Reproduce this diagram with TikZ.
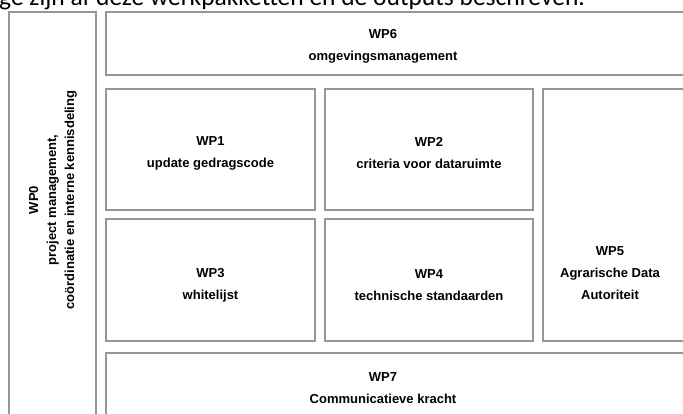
\documentclass[tikz,border=0pt]{standalone}
\usepackage{fontspec}
\setmainfont{Liberation Sans}
\newfontfamily\introfont{Carlito}
\usepackage{xcolor}
\usetikzlibrary{positioning}
\definecolor{boxgray}{RGB}{150,150,150}
\tikzstyle{wpbox} = [rectangle, draw=boxgray, line width=1.2pt, inner sep=0pt]
\tikzstyle{wptext} = [inner sep=0pt, text centered, align=center, font=\fontsize{13}{22}\selectfont\bfseries]
\tikzstyle{intro} = [inner sep=0pt, anchor=base west, font=\introfont\fontsize{25.5}{28}\selectfont]

\begin{document}
\begin{tikzpicture}[x=1pt, y=-1pt]
    \useasboundingbox (0,0) rectangle (683,413);
    \clip (0,0) rectangle (683,413);
    \node (intro_text) [intro] at (-1,5) {ge zijn af deze werkpakketten en de outputs beschreven.};

    \node (wp0) [wpbox, minimum width=87pt, minimum height=440pt] at (52.5,232) {};
    \node (wp6) [wpbox, minimum width=600pt, minimum height=63pt] at (406,43.5) {};
    \node (wp1) [wpbox, minimum width=209pt, minimum height=121pt] at (210.5,149.5) {};
    \node (wp2) [wpbox, minimum width=208pt, minimum height=121pt] at (429,149.5) {};
    \node (wp3) [wpbox, minimum width=209pt, minimum height=122pt] at (210.5,280) {};
    \node (wp4) [wpbox, minimum width=208pt, minimum height=122pt] at (429,280) {};
    \node (wp5) [wpbox, minimum width=160pt, minimum height=252pt] at (623,215) {};
    \node (wp7) [wpbox, minimum width=600pt, minimum height=80pt] at (406,393) {};

    \node (wp0_text) [wptext, rotate=90, font=\fontsize{13}{18}\selectfont\bfseries] at (53,200) {WP0\\project management,\\coördinatie en interne kennisdeling};
    \node (wp6_text) [wptext] at (383,46.5) {WP6\\omgevingsmanagement};
    \node (wp1_text) [wptext] at (210.5,153.5) {WP1\\update gedragscode};
    \node (wp2_text) [wptext] at (429,153.5) {WP2\\criteria voor dataruimte};
    \node (wp3_text) [wptext] at (210.5,285) {WP3\\whitelijst};
    \node (wp4_text) [wptext] at (429,285) {WP4\\technische standaarden};
    \node (wp5_text) [wptext] at (610,273) {WP5\\Agrarische Data\\Autoriteit};
    \node (wp7_text) [wptext] at (383,388) {WP7\\Communicatieve kracht};
\end{tikzpicture}
\end{document}
